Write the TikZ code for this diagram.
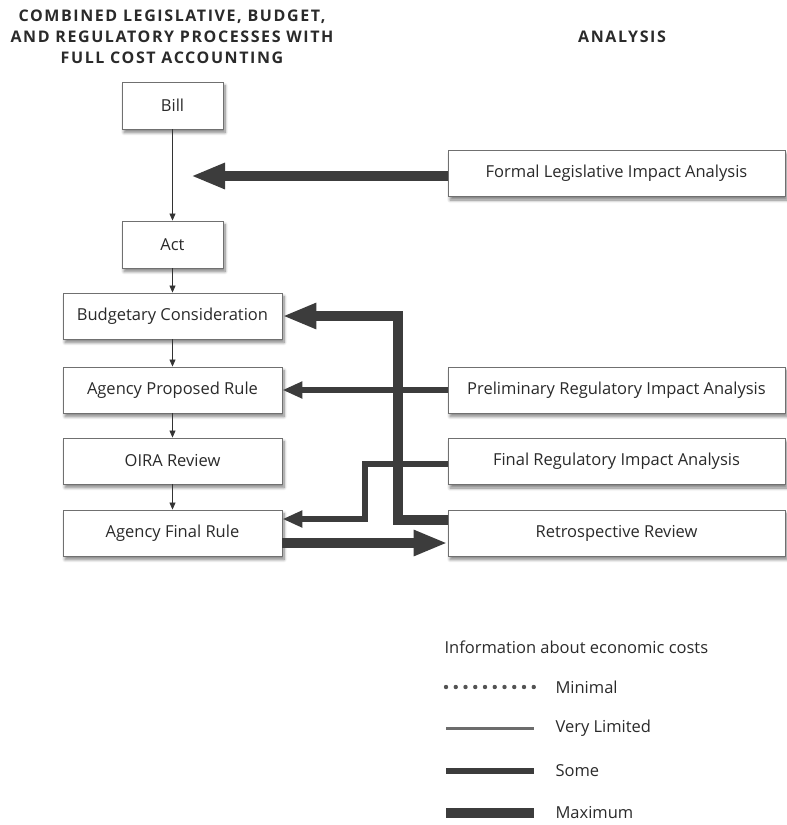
\documentclass[tikz,border=0pt]{standalone}
\usepackage{fontspec}
\setmainfont{Open Sans}
\newfontfamily\headfont[LetterSpace=10]{Open Sans}
\usetikzlibrary{arrows.meta,shadows.blur,positioning}
\definecolor{arr}{HTML}{3C3C3C}
\definecolor{boxline}{HTML}{707070}
\definecolor{txt}{HTML}{2A2A2A}
\begin{document}
\begin{tikzpicture}[x=1pt,y=-1pt,
  box/.style={draw=boxline,line width=0.9pt,fill=white,
    blur shadow={shadow xshift=2pt,shadow yshift=-3.5pt,shadow blur steps=8,shadow blur radius=3pt,shadow opacity=50},
    font=\fontsize{16.5}{19}\selectfont,text=txt,inner sep=0pt},
  lbox/.style={box,minimum width=219pt,minimum height=46pt},
  sbox/.style={box,minimum width=101pt,minimum height=47pt},
  rbox/.style={box,minimum width=337pt,minimum height=46pt},
  thin/.style={draw=black!80,line width=0.8pt,-{Triangle[length=7pt,width=6pt]}},
  maxarr/.style={draw=arr,line width=10pt,-{Triangle[length=34pt,width=24pt]}},
  somearr/.style={draw=arr,line width=5.5pt,-{Triangle[length=20pt,width=16pt]}},
  head/.style={font=\headfont\bfseries\fontsize{16}{21}\selectfont,text=txt,align=center},
  leg/.style={font=\fontsize{16.5}{19}\selectfont,text=txt,anchor=west},
]
\useasboundingbox (0,0) rectangle (787,825);

\node[head] (h1) at (172,36.5) {COMBINED LEGISLATIVE, BUDGET,\\AND REGULATORY PROCESSES WITH\\FULL COST ACCOUNTING};
\node[head] (h2) at (622,36.5) {ANALYSIS};

\node[sbox] (bill) at (172.5,105.5) {Bill};
\node[sbox] (act) at (172.5,244.5) {Act};
\node[lbox] (budg) at (172.5,316) {Budgetary Consideration};
\node[lbox] (apr) at (172.5,390) {Agency Proposed Rule};
\node[lbox] (oira) at (172.5,461) {OIRA Review};
\node[lbox] (afr) at (172.5,533) {Agency Final Rule};

\node[rbox] (flia) at (616.5,173.5) {Formal Legislative Impact Analysis};
\node[rbox] (pria) at (616.5,390) {Preliminary Regulatory Impact Analysis};
\node[rbox] (fria) at (616.5,461.5) {Final Regulatory Impact Analysis};
\node[rbox] (retro) at (616.5,533) {Retrospective Review};

\draw[thin] (bill) -- (act);
\draw[thin] (act) -- (budg);
\draw[thin] (budg) -- (apr);
\draw[thin] (apr) -- (oira);
\draw[thin] (oira) -- (afr);

\coordinate (ftip) at (191,176);
\draw[maxarr] ([yshift=-2.5pt]flia.west) -- (ftip);

\draw[maxarr,line join=miter] ([yshift=13pt]retro.west) -| (398,316) -- (budg.east);
\draw[somearr] (pria.west) -- (apr.east);
\draw[somearr,line join=miter] ([yshift=-2.5pt]fria.west) -- (365,464) -- (365,519) -- ([yshift=14pt]afr.east);
\draw[maxarr] ([yshift=-10pt]afr.east) -- ([yshift=-10pt]retro.west);

\node[leg] (lt) at (441,647) {Information about economic costs};
\coordinate (l1a) at (446,687); \coordinate (l1b) at (534,687);
\coordinate (l2a) at (446,728); \coordinate (l2b) at (534,728);
\coordinate (l3a) at (446,771); \coordinate (l3b) at (534,771);
\coordinate (l4a) at (446,813); \coordinate (l4b) at (534,813);
\draw[draw=gray!65!black,line width=4.4pt,line cap=round,dash pattern=on 0pt off 9.75pt] (l1a) -- (l1b);
\draw[draw=gray!85!black,line width=3pt] (l2a) -- (l2b);
\draw[draw=arr,line width=5.5pt] (l3a) -- (l3b);
\draw[draw=arr,line width=10pt] (l4a) -- (l4b);
\node[leg] (m1) at (552,687) {Minimal};
\node[leg] (m2) at (552,728) {Very Limited};
\node[leg] (m3) at (552,771) {Some};
\node[leg] (m4) at (552,813) {Maximum};
\end{tikzpicture}
\end{document}
